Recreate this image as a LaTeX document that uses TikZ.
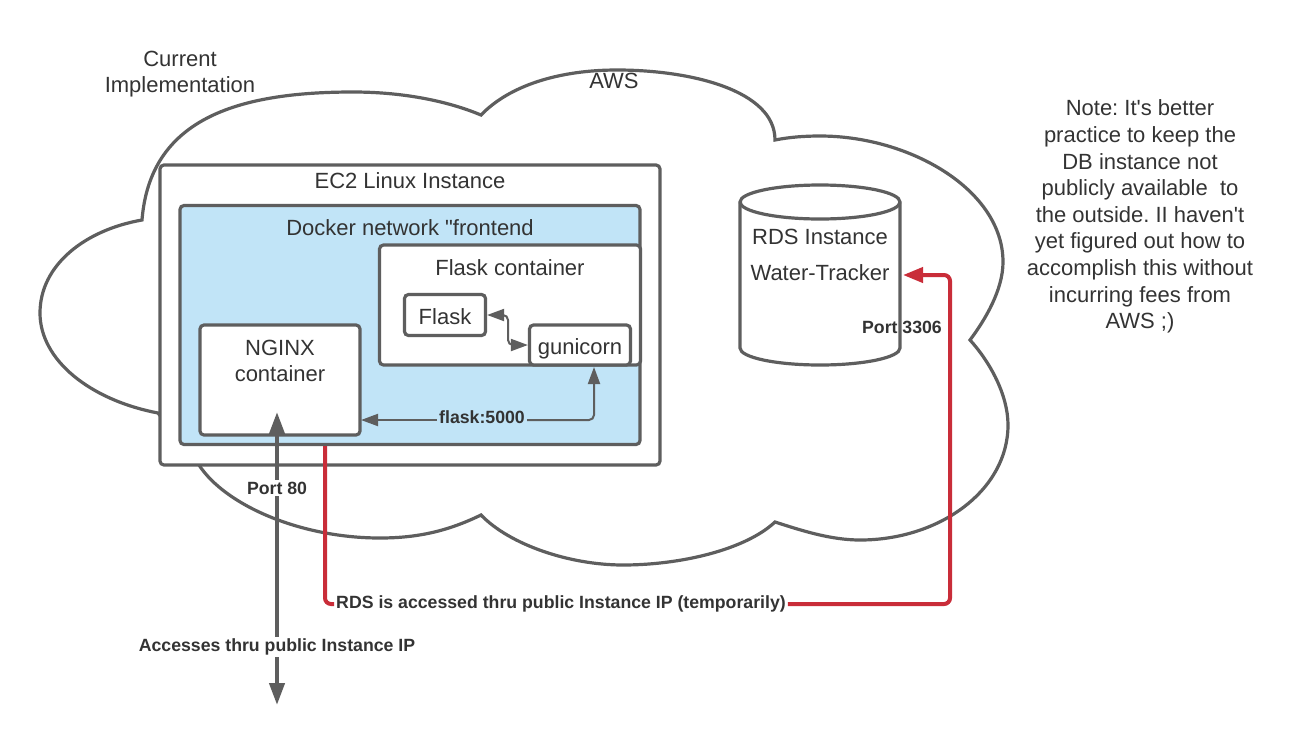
\documentclass[tikz,border=0pt]{standalone}
\usepackage{fontspec}
\setmainfont[Ligatures=TeXOff]{Liberation Sans}
\usepackage{xcolor}
\usetikzlibrary{arrows.meta}

\definecolor{linegray}{HTML}{5E5E5E}
\definecolor{textgray}{HTML}{333333}
\definecolor{netblue}{HTML}{C1E4F7}
\definecolor{linkred}{HTML}{C92D39}

\tikzset{
    box/.style={draw=linegray, line width=3.2pt, fill=white, rounded corners=4pt, inner sep=0pt, text=textgray, text height=19.5pt, text depth=0pt, font=\fontsize{22}{26.6}\selectfont},
    txt/.style={text=textgray, inner sep=0pt, align=center, font=\fontsize{22}{26.6}\selectfont},
    lbl/.style={text=textgray, inner sep=2pt, align=center, font=\fontsize{17.7}{20}\selectfont\bfseries},
    smalltip/.tip={Triangle[length=17pt,width=12pt]},
    thinlink/.style={draw=linegray, line width=2pt, rounded corners=5pt},
    biglink/.style={draw=linegray, line width=4.2pt},
    redlink/.style={draw=linkred, line width=4pt, rounded corners=6pt}
}

\begin{document}
\frenchspacing
\begin{tikzpicture}[x=1pt, y=-1pt]
    \useasboundingbox (0,0) rectangle (1300,745);

    % Cloud
    \draw[draw=linegray, line width=3.2pt, fill=white] (142,220)
        .. controls (150,120) and (235,92) .. (353,92)
        .. controls (400,92) and (445,100) .. (481,115)
        .. controls (510,85) and (560,70) .. (617,70)
        .. controls (690,70) and (775,90) .. (775,140)
        .. controls (790,137) and (805,136) .. (820,136)
        .. controls (910,136) and (1003,190) .. (1003,262)
        .. controls (1003,290) and (985,320) .. (970,340)
        .. controls (990,362) and (1008,395) .. (1008,425)
        .. controls (1008,490) and (940,540) .. (860,540)
        .. controls (830,540) and (800,530) .. (775,522)
        .. controls (745,550) and (680,565) .. (623,565)
        .. controls (570,565) and (510,545) .. (481,515)
        .. controls (450,530) and (420,538) .. (380,538)
        .. controls (300,538) and (225,505) .. (199,465)
        -- (158,413)
        .. controls (90,400) and (40,360) .. (40,313)
        .. controls (40,265) and (85,230) .. (142,220) -- cycle;
    \node[txt] (title) at (180,74) {Current\\Implementation};
    \node[txt] (aws) at (614,81) {AWS};

    % EC2 instance
    \node[box, minimum width=500pt, minimum height=300pt] (ec2) at (410,315) {};
    \node[txt] (ec2text) at (410,181) {EC2 Linux Instance};
    \node[box, fill=netblue, minimum width=460pt, minimum height=239pt] (net) at (410,325) {};
    \node[txt] (nettext) at (410,228) {Docker network "frontend};

    % Flask container
    \node[box, minimum width=261pt, minimum height=120pt] (flaskbox) at (510,305) {};
    \node[txt] (flasktext) at (510,268) {Flask container};
    \node[box, minimum width=81pt, minimum height=41pt] (flask) at (445,315) {Flask};
    \node[box, minimum width=101pt, minimum height=40pt] (gunicorn) at (580,345) {gunicorn};
    \coordinate (bend) at (508,330);
    \draw[thinlink, smalltip-smalltip] (flask.east) -| (bend) |- (gunicorn.west);

    % NGINX container
    \node[box, minimum width=160pt, minimum height=110pt] (nginx) at (280,380) {};
    \node[txt] (nginxtext) at (280,361) {NGINX\\container};

    % RDS
    \coordinate (rds) at (900,275);
    \draw[draw=linegray, line width=3.2pt, fill=white] (740,202) arc (180:0:80pt and 17pt) -- (900,348) arc (0:-180:80pt and 17pt) -- cycle;
    \draw[draw=linegray, line width=3.2pt] (740,202) arc (180:360:80pt and 17pt);
    \node[txt] (rdstext) at (820,237) {RDS Instance};
    \node[txt] (rdsname) at (820,273) {Water-Tracker};
    \node[lbl] (port3306) at (902,327) {Port 3306};

    % flask:5000
    \node[lbl] (flasklbl) at (482,417) {flask:5000};
    \coordinate (nginxport) at (361,420);
    \coordinate (gunicornport) at (594,367);
    \draw[thinlink, smalltip-] (nginxport) -- (flasklbl.west |- nginxport);
    \draw[thinlink, -smalltip] (flasklbl.east |- nginxport) -| (gunicornport);

    % Port 80
    \node[lbl] (port80) at (277,488) {Port 80};
    \node[lbl] (access) at (277,647) {Accesses thru public Instance IP};
    \coordinate (inner) at (277,412);
    \coordinate (outer) at (277,705);
    \draw[biglink, -{Triangle[length=22pt,width=15pt]}] (port80) -- (inner);
    \draw[biglink] (port80) -- (access);
    \draw[biglink, -{Triangle[length=22pt,width=15pt]}] (access) -- (outer);

    % RDS link
    \node[lbl] (rdslbl) at (561,604) {RDS is accessed thru public Instance IP (temporarily)};
    \coordinate (redstart) at (325,446);
    \draw[redlink] (redstart) |- (rdslbl.west);
    \draw[redlink, -{Triangle[length=20pt,width=15pt]}] (rdslbl.east) -| (950,275) -- ([xshift=3pt]rds);

    % Note
    \node[txt] (note) at (1140,216.5) {Note: It's better\\practice to keep the\\DB instance not\\publicly available\ \ to\\the outside. II haven't\\yet figured out how to\\accomplish this without\\incurring fees from\\AWS ;)};
\end{tikzpicture}
\end{document}
